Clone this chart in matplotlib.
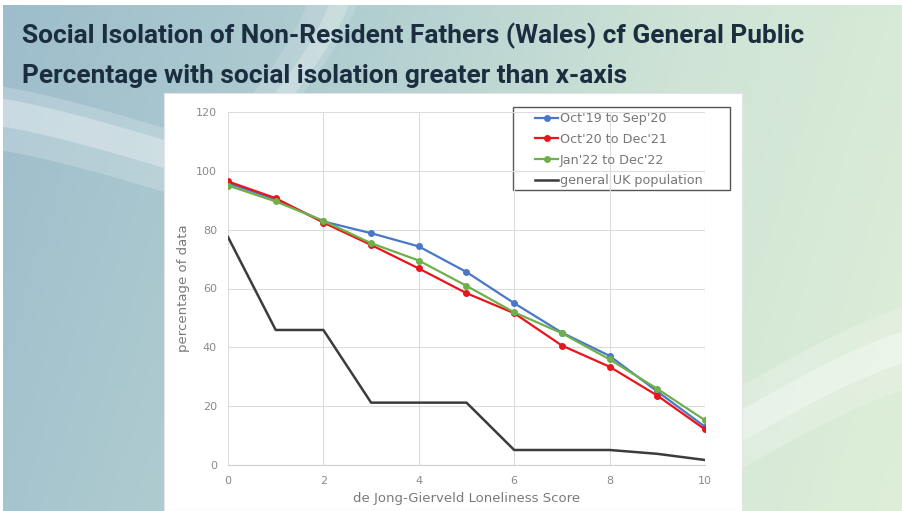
import numpy as np
import matplotlib
matplotlib.use("Agg")
import matplotlib.pyplot as plt
from matplotlib.colors import LinearSegmentedColormap
from matplotlib.patches import Rectangle

# de Jong-Gierveld score
score = [0, 1, 2, 3, 4, 5, 6, 7, 8, 9, 10]

# percentage of data with isolation greater than score
oct19_sep20 = [95.8, 90.3, 82.8, 78.8, 74.3, 65.6, 55.0, 45.0, 37.1, 25.0, 13.0]
oct20_dec21 = [96.4, 90.7, 82.4, 74.8, 66.8, 58.4, 51.6, 40.6, 33.4, 23.6, 12.1]
jan22_dec22 = [95.0, 89.6, 83.0, 75.4, 69.5, 60.9, 51.9, 44.8, 35.9, 25.9, 15.2]
uk_general = [77.5, 45.9, 45.9, 21.2, 21.2, 21.2, 5.1, 5.1, 5.1, 3.8, 1.7]

series = [
    ("Oct'19 to Sep'20", oct19_sep20, "#4a78c8"),
    ("Oct'20 to Dec'21", oct20_dec21, "#e8161c"),
    ("Jan'22 to Dec'22", jan22_dec22, "#6fb04a"),
]

title1 = "Social Isolation of Non-Resident Fathers (Wales) cf General Public"
title2 = "Percentage with social isolation greater than x-axis"

W, H = 903, 511
fig = plt.figure(figsize=(W / 100, H / 100), dpi=100)

# slide background: gradient + soft swooshes
bg = fig.add_axes([0, 0, 1, 1])
bg.set_xlim(0, W)
bg.set_ylim(H, 0)
bg.axis("off")
cmap = LinearSegmentedColormap.from_list("slide", ["#9ebdcc", "#b0cdd0", "#cfe4d6", "#deeed8"])
gx, gy = np.meshgrid(np.linspace(0, 1, 200), np.linspace(0, 1, 100))
grad = 0.85 * gx + 0.15 * gy
bg.imshow(grad, cmap=cmap, extent=[0, W, H, 0], aspect="auto", zorder=0)

# top-left swoosh
sx = np.linspace(0, 200, 100)
mid = 118 + 42 * (sx / 165) ** 1.2
bg.fill_between(sx, mid - 32, mid + 32, color="white", alpha=0.2, lw=0, zorder=1)
bg.fill_between(sx, mid - 20, mid + 8, color="white", alpha=0.3, lw=0, zorder=1)
# vertical swoosh behind the title
vy = np.linspace(0, 100, 50)
vx = 335 - 60 * (vy / 100) ** 1.3
bg.fill_betweenx(vy, vx - 28, vx + 22, color="white", alpha=0.15, lw=0, zorder=1)
bg.fill_betweenx(vy, vx - 6, vx + 14, color="white", alpha=0.22, lw=0, zorder=1)
# bottom-right swoosh
rx = np.linspace(735, W, 100)
rr = 345 + 78 * ((W - rx) / (W - 742)) ** 1.2
bg.fill_between(rx, rr - 38, rr + 45, color="white", alpha=0.2, lw=0, zorder=1)
bg.fill_between(rx, rr - 14, rr + 18, color="white", alpha=0.32, lw=0, zorder=1)
# white frame lines at top/left edge
bg.add_patch(Rectangle((0, 0), W, 5, color="white", lw=0, zorder=2))
bg.add_patch(Rectangle((0, 0), 3, H, color="white", lw=0, zorder=2))

# white chart panel
bg.add_patch(Rectangle((164, 93), 578, H - 93, facecolor="white", edgecolor="#e4e4e4", lw=0.8, zorder=3))

# titles, sized so the first line spans like the slide
title_font = ["Roboto", "DejaVu Sans"]
t1 = fig.text(22 / W, 1 - 36 / H, title1, fontsize=19, fontweight="bold", color="#1b2e40",
              family=title_font, va="center", ha="left")
t2 = fig.text(22 / W, 1 - 76 / H, title2, fontsize=19, fontweight="bold", color="#1b2e40",
              family=title_font, va="center", ha="left")
r = fig.canvas.get_renderer()
w1 = t1.get_window_extent(r).width
fs = 19 * 784 / w1
t1.set_fontsize(fs)
t2.set_fontsize(fs)

# chart
ax = fig.add_axes([228 / W, 1 - 465 / H, 477 / W, 353 / H])
ax.set_facecolor("none")
for name, vals, col in series:
    ax.plot(score, vals, color=col, lw=1.6, marker="o", markersize=4, label=name, zorder=3)
ax.plot(score, uk_general, color="#3c3c3c", lw=1.8, label="general UK population", zorder=2)

ax.set_xlim(0, 10)
ax.set_ylim(0, 120)
ax.set_xticks(range(0, 11, 2))
ax.set_yticks(range(0, 121, 20))
ax.grid(True, color="#dcdcdc", lw=0.8)
ax.set_axisbelow(True)
for s in ["top", "right", "left"]:
    ax.spines[s].set_visible(False)
ax.spines["bottom"].set_color("#d0d0d0")
ax.tick_params(length=0, labelsize=8, colors="#8a8a8a", pad=8)
ax.set_xlabel("de Jong-Gierveld Loneliness Score", fontsize=9.5, color="#7a7a7a", labelpad=4)
ax.set_ylabel("percentage of data", fontsize=9.5, color="#7a7a7a", labelpad=4)

# legend without its own frame; frame drawn as a box like the original
leg = ax.legend(loc="upper left", bbox_to_anchor=(525 / W, 1 - 102 / H), bbox_transform=fig.transFigure,
                frameon=False, fontsize=9.2, handlelength=1.8, handletextpad=0.1,
                labelspacing=0.6, borderpad=0.3, labelcolor="#777777")
bg.add_patch(Rectangle((513, 107), 217, 83, facecolor="none", edgecolor="#555555", lw=1.0, zorder=4))

fig.savefig("out.png", dpi=100)
